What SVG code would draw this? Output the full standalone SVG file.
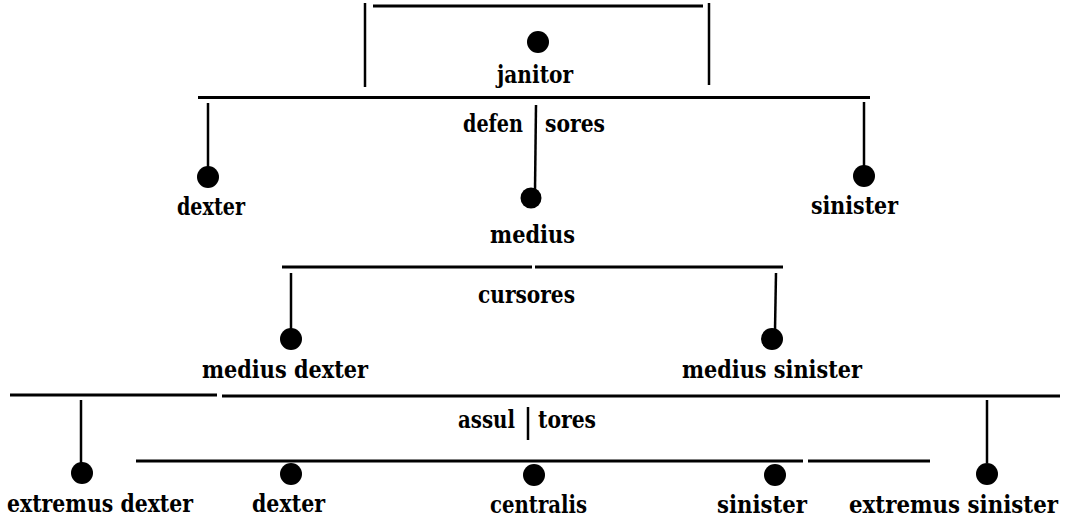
<svg xmlns="http://www.w3.org/2000/svg" width="1077" height="524" viewBox="0 0 1077 524">
<style>
.ln{stroke:#000;stroke-width:3;stroke-linecap:butt;fill:none}
.vl{stroke:#000;stroke-width:2.5;fill:none}
.dot{fill:#000}
.t{font-family:"DejaVu Serif","Liberation Serif",serif;font-weight:bold;font-size:24px;fill:#000}
</style>
<rect width="1077" height="524" fill="#fff"/>
<g id="connectors">
<line class="ln" x1="373" y1="6" x2="703" y2="6"/>
<line class="vl" x1="365" y1="3" x2="365" y2="87"/>
<line class="vl" x1="709" y1="3" x2="709" y2="85"/>
<line class="ln" x1="198" y1="97.5" x2="870" y2="97.5"/>
<line class="vl" x1="208" y1="103" x2="208" y2="168"/>
<line class="vl" x1="536" y1="105" x2="535" y2="190"/>
<line class="vl" x1="864" y1="102" x2="864" y2="166"/>
<line class="ln" x1="282" y1="267" x2="532" y2="267"/>
<line class="ln" x1="535" y1="267" x2="783" y2="267"/>
<line class="vl" x1="291" y1="273" x2="291" y2="329"/>
<line class="vl" x1="776" y1="273" x2="775" y2="330"/>
<line class="ln" x1="10" y1="395" x2="217" y2="395"/>
<line class="ln" x1="222" y1="396" x2="1060" y2="396"/>
<line class="vl" x1="81" y1="400" x2="81" y2="463"/>
<line class="vl" x1="987" y1="400" x2="987" y2="463"/>
<line class="vl" x1="528" y1="407" x2="528" y2="440"/>
<line class="ln" x1="136" y1="461" x2="803" y2="461"/>
<line class="ln" x1="808" y1="461" x2="930" y2="461"/>
<text class="t" x="463" y="132" textLength="60" lengthAdjust="spacingAndGlyphs">defen</text>
<text class="t" x="545" y="132" textLength="60" lengthAdjust="spacingAndGlyphs">sores</text>
<text class="t" x="478" y="303" textLength="97" lengthAdjust="spacingAndGlyphs">cursores</text>
<text class="t" x="458" y="428" textLength="57" lengthAdjust="spacingAndGlyphs">assul</text>
<text class="t" x="538" y="428" textLength="58" lengthAdjust="spacingAndGlyphs">tores</text>
</g>
<g id="janitor">
<circle class="dot" cx="538" cy="42" r="11"/>
<text class="t" x="497" y="83" textLength="76" lengthAdjust="spacingAndGlyphs">janitor</text>
</g>
<g id="defensor-dexter">
<circle class="dot" cx="208" cy="177" r="11"/>
<text class="t" x="177" y="215" textLength="68" lengthAdjust="spacingAndGlyphs">dexter</text>
</g>
<g id="defensor-medius">
<circle class="dot" cx="531" cy="198" r="10.5"/>
<text class="t" x="490" y="243" textLength="85" lengthAdjust="spacingAndGlyphs">medius</text>
</g>
<g id="defensor-sinister">
<circle class="dot" cx="864" cy="176" r="11"/>
<text class="t" x="811" y="214" textLength="87" lengthAdjust="spacingAndGlyphs">sinister</text>
</g>
<g id="cursor-medius-dexter">
<circle class="dot" cx="291" cy="339" r="11"/>
<text class="t" x="202" y="378" textLength="166" lengthAdjust="spacingAndGlyphs">medius dexter</text>
</g>
<g id="cursor-medius-sinister">
<circle class="dot" cx="772" cy="339" r="11"/>
<text class="t" x="682" y="378" textLength="180" lengthAdjust="spacingAndGlyphs">medius sinister</text>
</g>
<g id="assultor-extremus-dexter">
<circle class="dot" cx="82" cy="473" r="11"/>
<text class="t" x="7" y="512" textLength="186" lengthAdjust="spacingAndGlyphs">extremus dexter</text>
</g>
<g id="assultor-dexter">
<circle class="dot" cx="291" cy="474" r="11"/>
<text class="t" x="252" y="512" textLength="73" lengthAdjust="spacingAndGlyphs">dexter</text>
</g>
<g id="assultor-centralis">
<circle class="dot" cx="534" cy="475" r="11"/>
<text class="t" x="490" y="513" textLength="97" lengthAdjust="spacingAndGlyphs">centralis</text>
</g>
<g id="assultor-sinister">
<circle class="dot" cx="775" cy="475" r="11"/>
<text class="t" x="717" y="513" textLength="90" lengthAdjust="spacingAndGlyphs">sinister</text>
</g>
<g id="assultor-extremus-sinister">
<circle class="dot" cx="987" cy="474" r="11"/>
<text class="t" transform="translate(849,513) scale(0.846,1)" x="0" y="0" textLength="247" lengthAdjust="spacingAndGlyphs">extremus sinister</text>
</g>
</svg>
